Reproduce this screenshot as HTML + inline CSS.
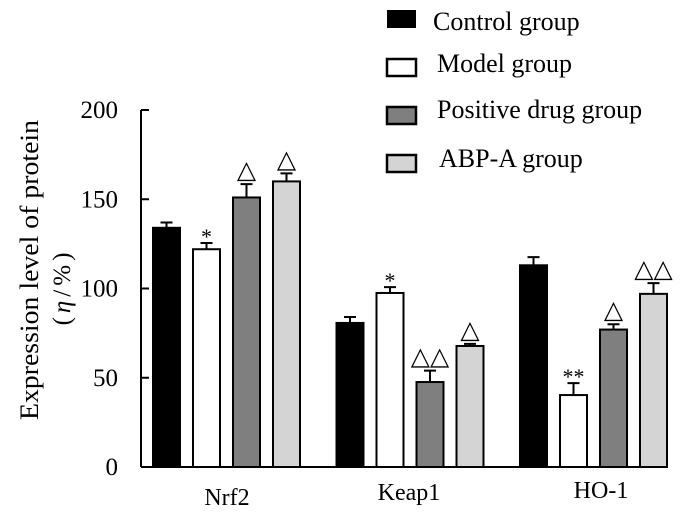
<!DOCTYPE html>
<html><head><meta charset="utf-8"><style>
body{margin:0;background:#fff}
svg text{font-family:"Liberation Serif",serif;fill:#000}
</style></head><body>
<svg id="chart" width="700" height="521" xmlns="http://www.w3.org/2000/svg">
<g id="axes"></g>
<g id="bars"></g>
<g id="legend"></g>
<text transform="translate(38,270) rotate(-90)" text-anchor="middle" font-size="26" textLength="300" lengthAdjust="spacingAndGlyphs">Expression level of protein</text>
<text transform="translate(70,287) rotate(-90)" text-anchor="middle" font-size="25" letter-spacing="4">(<tspan font-style="italic">η</tspan>/%)</text>
</svg>
<script>
const categories=["Nrf2","Keap1","HO-1"];
const seriesNames=["Control group","Model group","Positive drug group","ABP-A group"];
const control=[134,80.7,113];
const model=[122,97.5,40.3];
const positive=[151,47.6,77];
const abpa=[160,67.8,97];
const controlErr=[3,3.3,4.6];
const modelErr=[3.5,3.3,6.7];
const positiveErr=[7.5,6.4,3];
const abpaErr=[4.5,1.2,6];
const marks=[["","*","△","△"],["","*","△△","△"],["","**","△","△△"]];
const yTicks=[0,50,100,150,200];
const fills=["#000","#fff","#7f7f7f","#d4d4d4"];
const NS="http://www.w3.org/2000/svg";
const y0=467,yTop=110,xAxisL=141;
const y=v=>y0-(v/200)*(y0-yTop);
const gx=i=>153+i*183.5, bw=27, step=40;
const catX=[227,409,601], catY=[505,500,498];
function mk(tag,attrs,parent){const e=document.createElementNS(NS,tag);for(const k in attrs)e.setAttribute(k,attrs[k]);parent.appendChild(e);return e;}
const axes=document.getElementById('axes');
let l=mk('line',{x1:xAxisL,y1:y0,x2:xAxisL,y2:yTop,stroke:'#000','stroke-width':2},axes);


l=mk('line',{x1:xAxisL,y1:y0,x2:668,y2:y0,stroke:'#000','stroke-width':2},axes);


yTicks.forEach(t=>{
 let tk=mk('line',{x1:xAxisL,y1:y(t),x2:xAxisL+8,y2:y(t),stroke:'#000','stroke-width':2},axes);
 
 
 let tx=mk('text',{x:118,y:y(t)+8,'text-anchor':'end','font-size':25},axes);
 tx.textContent=t;
 
 
});
const series=[control,model,positive,abpa],errs=[controlErr,modelErr,positiveErr,abpaErr];
const bars=document.getElementById('bars');
categories.forEach((c,i)=>{
 series.forEach((s,j)=>{
  const x=gx(i)+j*step, top=y(s[i]), et=y(s[i]+errs[j][i]);
  let b=mk('rect',{x:x,y:top,width:bw,height:y0-top,fill:fills[j],stroke:'#000','stroke-width':2},bars);
  
  
  let e=mk('path',{d:`M${x+bw/2} ${top}V${et}M${x+bw/2-6} ${et}H${x+bw/2+6}`,stroke:'#000','stroke-width':2,fill:'none'},bars);
  
  
  if(marks[i][j]){
   const star=marks[i][j].includes('*');
   let m=mk('text',{x:x+bw/2,y:et-(star?-1:6),'text-anchor':'middle','font-size':star?22:25,fill:star?'#222':'#333'},bars);
   m.textContent=marks[i][j];
   
   
  }
 });
 let t=mk('text',{x:catX[i],y:catY[i],'text-anchor':'middle','font-size':24},bars);
 t.textContent=c;
 
 
});
const lg=document.getElementById('legend');
const ly=[10,58,106,154],lty=[30,72,118,167],ltx=[433,437,437,439];
seriesNames.forEach((n,j)=>{
 let r=mk('rect',{x:387,y:ly[j]+(j?1:0),width:29,height:j?17:18,fill:fills[j],stroke:'#000','stroke-width':j?2.5:0},lg);
 
 
 let t=mk('text',{x:ltx[j],y:lty[j],'font-size':26},lg);
 t.textContent=n;
 
 
});
</script>
</body></html>
